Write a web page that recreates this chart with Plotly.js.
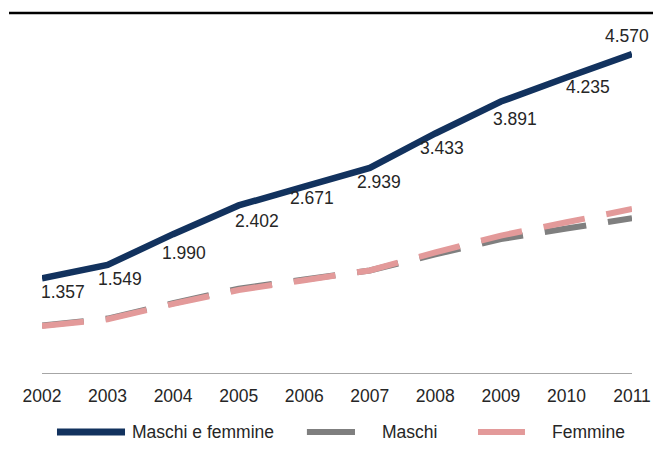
<!DOCTYPE html>
<html>
<head>
<meta charset="utf-8">
<script src="https://cdn.plot.ly/plotly-3.0.1.min.js"></script>
<style>html,body{margin:0;padding:0;background:#fff;}#chart{width:653px;height:451px;}</style>
</head>
<body>
<div id="chart"></div>
<script>
// Data (migliaia)
const years = [2002, 2003, 2004, 2005, 2006, 2007, 2008, 2009, 2010, 2011];
const totale = [1.357, 1.549, 1.990, 2.402, 2.671, 2.939, 3.433, 3.891, 4.235, 4.570];
const maschi = [0.68, 0.78, 1.00, 1.21, 1.34, 1.47, 1.70, 1.92, 2.07, 2.22];
const femmine = [0.675, 0.77, 0.99, 1.19, 1.33, 1.47, 1.73, 1.97, 2.16, 2.35];
const totaleLabels = ["1.357", "1.549", "1.990", "2.402", "2.671", "2.939", "3.433", "3.891", "4.235", "4.570"];
const seriesNames = ["Maschi e femmine", "Maschi", "Femmine"];

// Label placement offsets (px), style only
const labelShiftX = [21, 12, 11, 18, 8, 9, 7, 14, 22, -5];
const labelShiftY = [-14, -14, -19, -16, -11, -14, -15, -17, -9, 18];

const FONT = '"Liberation Sans Narrow", "Arial Narrow", "Liberation Sans", Arial, sans-serif';
const FS = 17.5;
const TXT = '#262626';
const colors = ['#12325e', '#7f7f7f', '#e39a9a'];

const traces = [
  {x: years, y: maschi, name: seriesNames[1], mode: 'lines', type: 'scatter',
   line: {color: colors[1], width: 6, dash: '42px,22px'}, hoverinfo: 'skip'},
  {x: years, y: femmine, name: seriesNames[2], mode: 'lines', type: 'scatter',
   line: {color: colors[2], width: 6, dash: '42px,22px'}, hoverinfo: 'skip'},
  {x: years, y: totale, name: seriesNames[0], mode: 'lines', type: 'scatter',
   line: {color: colors[0], width: 6.5}, hoverinfo: 'skip'}
];

const annotations = years.map((yr, i) => ({
  x: yr, y: totale[i], xref: 'x', yref: 'y', text: totaleLabels[i],
  showarrow: false, xshift: labelShiftX[i], yshift: labelShiftY[i],
  font: {family: FONT, size: FS, color: TXT}
}));

// Custom legend
const legendY = -0.164;
const legendItems = [
  {x0: 0.0254, x1: 0.1407, tx: 0.1492, w: 7},
  {x0: 0.449, x1: 0.5305, tx: 0.5729, w: 6},
  {x0: 0.739, x1: 0.8186, tx: 0.861, w: 6}
];
const shapes = [
  {type: 'line', xref: 'paper', yref: 'paper', x0: -0.0559, x1: 1.0356, y0: 1, y1: 1,
   line: {color: '#000', width: 2.5}}
];
legendItems.forEach((it, i) => {
  shapes.push({type: 'line', xref: 'paper', yref: 'paper', x0: it.x0, x1: it.x1,
    y0: legendY, y1: legendY, line: {color: colors[i], width: it.w}});
  annotations.push({xref: 'paper', yref: 'paper', x: it.tx, y: legendY,
    xanchor: 'left', yanchor: 'middle', showarrow: false, text: seriesNames[i],
    font: {family: FONT, size: FS, color: TXT}});
});

const layout = {
  width: 653, height: 451,
  margin: {l: 42, r: 21, t: 13, b: 78},
  paper_bgcolor: '#fff', plot_bgcolor: '#fff',
  showlegend: false,
  xaxis: {range: [2002, 2011], tickmode: 'array', tickvals: years, ticktext: years.map(String),
    showgrid: false, zeroline: false, showline: true, linecolor: '#a6a6a6', linewidth: 1.2,
    ticks: '', ticklabelstandoff: 7, tickfont: {family: FONT, size: FS, color: TXT}, fixedrange: true},
  yaxis: {range: [0, 5.16], visible: false, showgrid: false, zeroline: false, fixedrange: true},
  annotations: annotations,
  shapes: shapes
};

Plotly.newPlot('chart', traces, layout, {displayModeBar: false, staticPlot: true});
</script>
</body>
</html>
